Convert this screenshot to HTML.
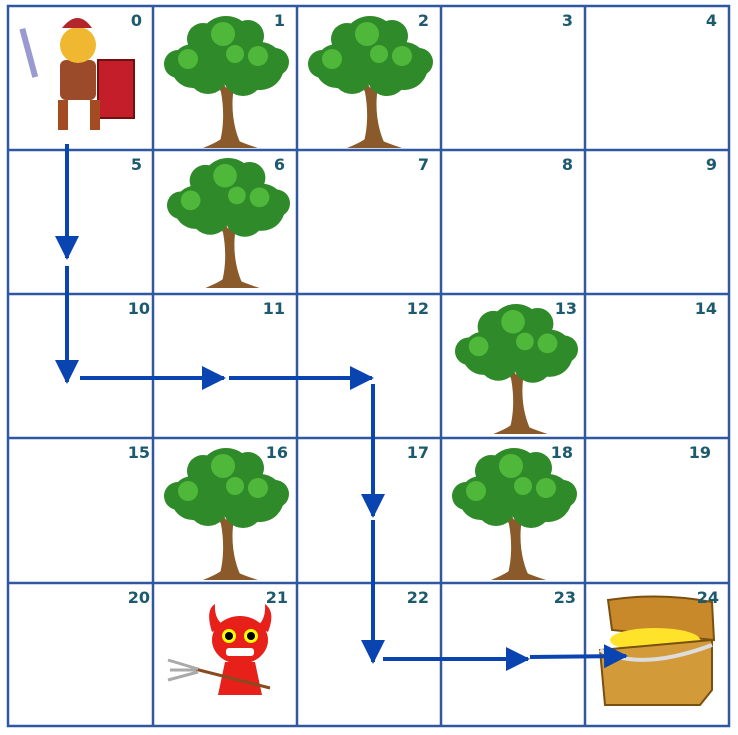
<!DOCTYPE html>
<html><head><style>
body{margin:0;background:#fff;}
svg{display:block;}
.n{font-family:"DejaVu Sans","Liberation Sans",sans-serif;font-weight:bold;font-size:16px;fill:#1d5a6e;text-anchor:end;}
</style></head><body>
<svg width="738" height="735" viewBox="0 0 738 735">
<defs>
<symbol id="tree" viewBox="0 0 127 134">
<path d="M55 134 C60 120 62 100 58 78 L50 60 L56 60 L63 74 L70 58 L76 60 L70 80 C68 100 72 120 80 134 Z" fill="#8a5a2b"/>
<path d="M40 134 Q60 126 63 120 Q70 126 95 134 Z" fill="#8a5a2b"/>
<g fill="#2f8a2a">
<circle cx="30" cy="52" r="22"/><circle cx="97" cy="52" r="24"/><circle cx="63" cy="30" r="28"/>
<circle cx="45" cy="60" r="20"/><circle cx="80" cy="62" r="20"/><circle cx="15" cy="50" r="14"/><circle cx="112" cy="48" r="14"/>
<circle cx="85" cy="22" r="16"/><circle cx="40" cy="25" r="16"/>
</g>
<g fill="#4fb83a"><circle cx="60" cy="20" r="12"/><circle cx="95" cy="42" r="10"/><circle cx="25" cy="45" r="10"/><circle cx="72" cy="40" r="9"/></g>
</symbol>
<marker id="ah" markerWidth="24" markerHeight="24" refX="22" refY="12" orient="auto" markerUnits="userSpaceOnUse" viewBox="0 0 24 24"><path d="M0 0 L24 12 L0 24 Z" fill="#0a44b0"/></marker>
</defs>
<g stroke="#2f58a0" stroke-width="2.5" fill="none">
<rect x="8" y="6" width="721" height="720"/>
<line x1="153" y1="6" x2="153" y2="726"/><line x1="297" y1="6" x2="297" y2="726"/>
<line x1="441" y1="6" x2="441" y2="726"/><line x1="585" y1="6" x2="585" y2="726"/>
<line x1="8" y1="150" x2="729" y2="150"/><line x1="8" y1="294" x2="729" y2="294"/>
<line x1="8" y1="438" x2="729" y2="438"/><line x1="8" y1="583" x2="729" y2="583"/>
</g>
<use href="#tree" x="163" y="14" width="127" height="134"/>
<use href="#tree" x="307" y="14" width="127" height="134"/>
<use href="#tree" x="166" y="156" width="125" height="132"/>
<use href="#tree" x="454" y="302" width="125" height="132"/>
<use href="#tree" x="163" y="446" width="127" height="134"/>
<use href="#tree" x="451" y="446" width="127" height="134"/>
<g>
<rect x="25" y="28" width="6" height="50" fill="#9a9ad0" transform="rotate(-15 28 50)"/>
<rect x="60" y="60" width="36" height="40" rx="6" fill="#9b4a2a"/>
<circle cx="78" cy="45" r="18" fill="#f0b830"/>
<path d="M62 28 Q78 8 92 28 Z" fill="#b3262b"/>
<rect x="98" y="60" width="36" height="58" fill="#c41e2a" stroke="#701010" stroke-width="2"/>
<rect x="58" y="100" width="10" height="30" fill="#a34c22"/><rect x="90" y="100" width="10" height="30" fill="#a34c22"/>
</g>
<g>
<path d="M212 632 Q205 610 215 604 Q214 620 225 626 Z M257 626 Q266 620 265 604 Q276 612 268 632 Z" fill="#e8201a"/>
<ellipse cx="240" cy="640" rx="28" ry="24" fill="#e8201a"/>
<circle cx="229" cy="636" r="7" fill="#ff0"/><circle cx="251" cy="636" r="7" fill="#ff0"/>
<circle cx="229" cy="636" r="4" fill="#000"/><circle cx="251" cy="636" r="4" fill="#000"/>
<rect x="226" y="648" width="28" height="8" rx="3" fill="#fff"/>
<path d="M225 662 L255 662 L262 695 L218 695 Z" fill="#e8201a"/>
<line x1="195" y1="669" x2="270" y2="688" stroke="#8a4a20" stroke-width="3"/>
<path d="M168 660 L198 669 M170 670 L196 670 M168 680 L198 672" stroke="#aaa" stroke-width="3" fill="none"/>
</g>
<g>
<path d="M612 630 L608 600 Q660 592 712 602 L714 640 Z" fill="#c8892a" stroke="#7a5010" stroke-width="2"/>
<ellipse cx="655" cy="640" rx="45" ry="12" fill="#ffe22a"/>
<path d="M600 650 L712 640 L712 690 L700 705 L605 705 Z" fill="#d29a38" stroke="#7a5010" stroke-width="2"/>
<path d="M600 650 Q640 672 712 645" stroke="#ddd" stroke-width="4" fill="none"/>
</g>
<g stroke="#0a44b0" stroke-width="4" fill="none" marker-end="url(#ah)">
<line x1="67" y1="144" x2="67" y2="258"/>
<line x1="67" y1="266" x2="67" y2="382"/>
<line x1="80" y1="378" x2="224" y2="378"/>
<line x1="229" y1="378" x2="372" y2="378"/>
<line x1="373" y1="384" x2="373" y2="516"/>
<line x1="373" y1="520" x2="373" y2="662"/>
<line x1="383" y1="659" x2="528" y2="659"/>
<line x1="530" y1="657" x2="626" y2="656"/>
</g>
<g class="n">
<text x="142" y="26">0</text><text x="285" y="26">1</text><text x="429" y="26">2</text><text x="573" y="26">3</text><text x="717" y="26">4</text>
<text x="142" y="170">5</text><text x="285" y="170">6</text><text x="429" y="170">7</text><text x="573" y="170">8</text><text x="717" y="170">9</text>
<text x="150" y="314">10</text><text x="285" y="314">11</text><text x="429" y="314">12</text><text x="577" y="314">13</text><text x="717" y="314">14</text>
<text x="150" y="458">15</text><text x="288" y="458">16</text><text x="429" y="458">17</text><text x="573" y="458">18</text><text x="711" y="458">19</text>
<text x="150" y="603">20</text><text x="288" y="603">21</text><text x="429" y="603">22</text><text x="576" y="603">23</text><text x="719" y="603">24</text>
</g>
</svg>
</body></html>
